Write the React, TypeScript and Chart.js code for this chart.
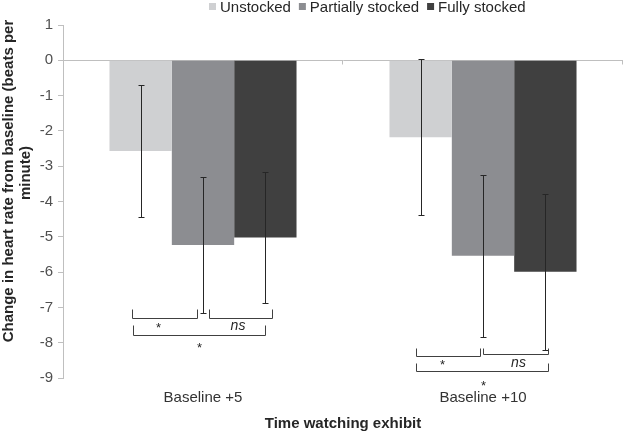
import React, { useEffect, useRef } from 'react';
import { Chart, registerables } from 'chart.js';

Chart.register(...registerables);

// ---- data ----
const categories = ['Baseline +5', 'Baseline +10'];
const seriesNames = ['Unstocked', 'Partially stocked', 'Fully stocked'];
const unstocked = [-2.57, -2.18];
const partiallyStocked = [-5.23, -5.54];
const fullyStocked = [-5.02, -5.99];
const unstockedErr = [1.87, 2.21];
const partiallyStockedErr = [1.93, 2.3];
const fullyStockedErr = [1.86, 2.21];
const yMin = -9;
const yMax = 1;
const yStep = 1;
const yAxisTitle = ['Change in heart rate from baseline (beats per', 'minute)'];
const xAxisTitle = 'Time watching exhibit';

// significance brackets (category, from series, to series, level in y units, label)
const bracketCategory = [0, 0, 0, 1, 1, 1];
const bracketFrom = [0, 1, 0, 0, 1, 0];
const bracketTo = [1, 2, 2, 1, 2, 2];
const bracketLevel = [-7.31, -7.31, -7.79, -8.39, -8.33, -8.81];
const bracketLabel = ['*', 'ns', '*', '*', 'ns', '*'];

// ---- styles ----
const colors = ['#cfd0d2', '#8c8d91', '#404040'];
const FONT = "'Liberation Sans', Arial, Helvetica, sans-serif";
// per-bracket pixel tweaks: [dxFrom, dxTo, armHeight, labelDx, labelDy]
const bracketStyle = [
  [-9, -6, 9, -6.5, 9.5],
  [6, 7, 9, -3, 7.5],
  [-8, 0, 10, 0, 12.5],
  [-5, -3, 8, -6, 8.5],
  [0, 2.5, 6, 2.5, 8.5],
  [-5, 2.5, 8, 1, 14.5],
];

const errors = [unstockedErr, partiallyStockedErr, fullyStockedErr];

const annotPlugin = {
  id: 'annot',
  afterDatasetsDraw(chart: any) {
    const ctx = chart.ctx;
    const ys = chart.scales.y;
    ctx.save();
    ctx.strokeStyle = '#262626';
    ctx.lineWidth = 1;
    chart.data.datasets.forEach((ds: any, di: number) => {
      const meta = chart.getDatasetMeta(di);
      meta.data.forEach((bar: any, i: number) => {
        const v = ds.data[i];
        const e = errors[di][i];
        const cx = Math.round(bar.x) + 0.5;
        const yt = Math.round(ys.getPixelForValue(v + e)) + 0.5;
        const yb = Math.round(ys.getPixelForValue(v - e)) + 0.5;
        ctx.beginPath();
        ctx.moveTo(cx, yt);
        ctx.lineTo(cx, yb);
        ctx.moveTo(cx - 3, yt);
        ctx.lineTo(cx + 3, yt);
        ctx.moveTo(cx - 3, yb);
        ctx.lineTo(cx + 3, yb);
        ctx.stroke();
      });
    });
    ctx.restore();
  },
  afterDraw(chart: any) {
    const ctx = chart.ctx;
    const ys = chart.scales.y;
    const xs = chart.scales.x;
    const area = chart.chartArea;
    ctx.save();

    // category boundary ticks on the zero line
    const y0 = Math.round(ys.getPixelForValue(0)) + 0.5;
    ctx.strokeStyle = '#bfbfbf';
    ctx.lineWidth = 1;
    const n = categories.length;
    for (let i = 1; i <= n; i++) {
      const bx = Math.round(area.left + ((area.right - area.left) * i) / n) - 0.5;
      ctx.beginPath();
      ctx.moveTo(bx, y0);
      ctx.lineTo(bx, y0 + 4);
      ctx.stroke();
    }

    // significance brackets
    ctx.strokeStyle = '#404040';
    ctx.fillStyle = '#262626';
    ctx.lineWidth = 1;
    for (let b = 0; b < bracketLevel.length; b++) {
      const c = bracketCategory[b];
      const [dxA, dxB, arm, ldx, ldy] = bracketStyle[b];
      const xa = Math.round(chart.getDatasetMeta(bracketFrom[b]).data[c].x + dxA) + 0.5;
      const xb = Math.round(chart.getDatasetMeta(bracketTo[b]).data[c].x + dxB) + 0.5;
      const yl = Math.round(ys.getPixelForValue(bracketLevel[b])) + 0.5;
      ctx.beginPath();
      ctx.moveTo(xa, yl - arm);
      ctx.lineTo(xa, yl);
      ctx.lineTo(xb, yl);
      ctx.lineTo(xb, yl - arm);
      ctx.stroke();
      const lbl = bracketLabel[b];
      ctx.font = lbl === 'ns' ? `italic 14px ${FONT}` : `13px ${FONT}`;
      ctx.textAlign = 'center';
      ctx.textBaseline = 'middle';
      ctx.fillText(lbl, (xa + xb) / 2 + ldx, yl + ldy);
    }

    // legend
    ctx.font = `15px ${FONT}`;
    ctx.textAlign = 'left';
    ctx.textBaseline = 'alphabetic';
    let lx = 209;
    chart.data.datasets.forEach((ds: any) => {
      ctx.fillStyle = ds.backgroundColor;
      ctx.fillRect(lx, 3, 7, 7);
      lx += 11;
      ctx.fillStyle = '#262626';
      ctx.fillText(ds.label, lx, 12);
      lx += ctx.measureText(ds.label).width + 8;
    });

    // y axis title
    ctx.font = `bold 15px ${FONT}`;
    ctx.fillStyle = '#262626';
    ctx.textAlign = 'center';
    ctx.textBaseline = 'middle';
    const titleX = [9, 26];
    const titleY = [181, 173];
    yAxisTitle.forEach((t, i) => {
      ctx.save();
      ctx.translate(titleX[i], titleY[i]);
      ctx.rotate(-Math.PI / 2);
      ctx.fillText(t, 0, 0);
      ctx.restore();
    });

    ctx.restore();
  },
};

export default function App() {
  const ref = useRef<HTMLCanvasElement | null>(null);

  useEffect(() => {
    document.body.style.margin = '0';
    const canvas = ref.current;
    if (!canvas) return;
    const seriesData = [unstocked, partiallyStocked, fullyStocked];
    const chart = new Chart(canvas, {
      type: 'bar',
      data: {
        labels: categories,
        datasets: seriesNames.map((name, i) => ({
          label: name,
          data: seriesData[i],
          backgroundColor: colors[i],
          borderWidth: 0,
          categoryPercentage: 0.668,
          barPercentage: 1,
        })),
      },
      options: {
        responsive: false,
        animation: false,
        devicePixelRatio: 1,
        layout: { padding: { top: 25, right: 1, left: 0, bottom: 0 } },
        plugins: {
          legend: { display: false },
          tooltip: { enabled: false },
        },
        scales: {
          x: {
            type: 'category',
            offset: true,
            grid: { display: false, drawTicks: false },
            border: { display: false },
            ticks: {
              padding: 11,
              color: '#333333',
              font: { family: FONT, size: 15 },
              maxRotation: 0,
            },
            title: {
              display: true,
              text: xAxisTitle,
              color: '#262626',
              font: { family: FONT, size: 15, weight: 'bold' },
              padding: { top: 0, bottom: 2 },
            },
            afterFit: (scale: any) => {
              scale.height = 57;
            },
          },
          y: {
            min: yMin,
            max: yMax,
            ticks: {
              stepSize: yStep,
              padding: 5,
              color: '#505050',
              font: { family: FONT, size: 15 },
            },
            grid: {
              drawOnChartArea: true,
              color: (c: any) => (c.tick && c.tick.value === 0 ? '#bfbfbf' : 'rgba(0,0,0,0)'),
              tickColor: '#bfbfbf',
              tickLength: 5,
              lineWidth: 1,
            },
            border: { display: true, color: '#bfbfbf', width: 1 },
            afterFit: (scale: any) => {
              scale.width = 63;
            },
          },
        },
      },
      plugins: [annotPlugin],
    });
    return () => chart.destroy();
  }, []);

  return (
    <div style={{ width: 624, height: 435, background: '#ffffff' }}>
      <canvas ref={ref} width={624} height={435} style={{ display: 'block' }} />
    </div>
  );
}
